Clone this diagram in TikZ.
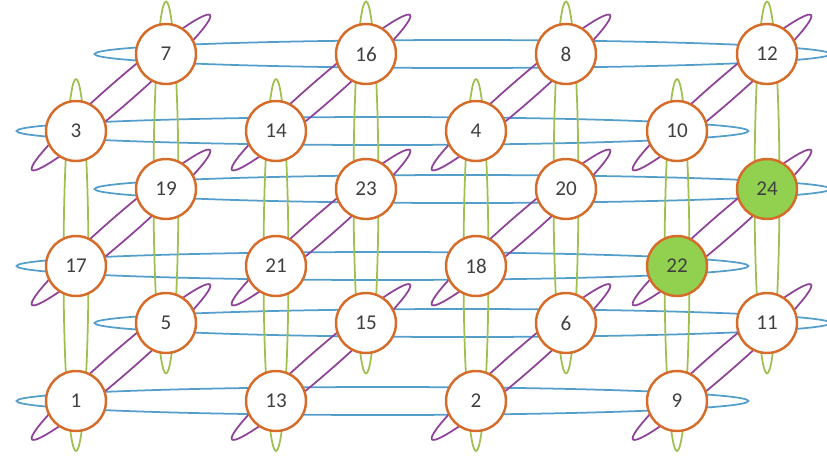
\documentclass[tikz,border=0pt]{standalone}
\usepackage{fontspec}
\setmainfont{Carlito}
\usetikzlibrary{calc,backgrounds}
\definecolor{ringblue}{RGB}{84,158,204}
\definecolor{ringgreen}{RGB}{158,192,78}
\definecolor{ringpurple}{RGB}{142,66,152}
\definecolor{nodeorange}{RGB}{214,108,42}
\definecolor{hotgreen}{RGB}{146,208,80}
\definecolor{numgray}{RGB}{64,64,64}

\begin{document}
\begin{tikzpicture}[x=0.02cm, y=-0.02cm,
        server/.style={circle, draw=nodeorange, line width=1.4pt, fill=white,
            minimum size=1.2cm, inner sep=0pt, text=numgray,
            font=\fontsize{12}{14}\selectfont},
        hot/.style={server, fill=hotgreen},
        rowring/.style={draw=ringblue, line width=1pt},
        colring/.style={draw=ringgreen, line width=1pt},
        diagring/.style={draw=ringpurple, line width=1pt}]
        \useasboundingbox (0,0) rectangle (827,457);
        % back layer
        \node[server] (n7)  at (166,54) {7};
        \node[server] (n16) at (366,54) {16};
        \node[server] (n8)  at (566,54) {8};
        \node[server] (n12) at (767,54) {12};
        \node[server] (n19) at (166,189) {19};
        \node[server] (n23) at (366,189) {23};
        \node[server] (n20) at (566,189) {20};
        \node[hot]    (n24) at (767,189) {24};
        \node[server] (n5)  at (166,323) {5};
        \node[server] (n15) at (366,323) {15};
        \node[server] (n6)  at (566,323) {6};
        \node[server] (n11) at (767,323) {11};
        % front layer
        \node[server] (n3)  at (76,131) {3};
        \node[server] (n14) at (276,131) {14};
        \node[server] (n4)  at (476,131) {4};
        \node[server] (n10) at (677,131) {10};
        \node[server] (n17) at (76,266) {17};
        \node[server] (n21) at (276,266) {21};
        \node[server] (n18) at (476,266) {18};
        \node[hot]    (n22) at (677,266) {22};
        \node[server] (n1)  at (76,401) {1};
        \node[server] (n13) at (276,401) {13};
        \node[server] (n2)  at (476,401) {2};
        \node[server] (n9)  at (677,401) {9};

        \begin{pgfonlayer}{background}
        % x rings
        \foreach \l/\r in {n3/n10, n17/n22, n1/n9}
            \draw[rowring] ($(\l)!0.5!(\r)+(6,0)$) ellipse [x radius=7.32cm, y radius=0.28cm];
        \foreach \l/\r in {n7/n12, n19/n24, n5/n11}
            \draw[rowring] ($(\l)!0.5!(\r)+(-4,0)$) ellipse [x radius=7.36cm, y radius=0.28cm];
        % y rings
        \foreach \t/\b in {n3/n1, n14/n13, n4/n2, n10/n9, n7/n5, n16/n15, n8/n6, n12/n11}
            \draw[colring] ($(\t)!0.5!(\b)+(0,-1)$) ellipse [x radius=0.25cm, y radius=3.72cm];
        % z rings
        \foreach \f/\k in {n3/n7, n14/n16, n4/n8, n10/n12, n17/n19, n21/n23,
                n18/n20, n22/n24, n1/n5, n13/n15, n2/n6, n9/n11} {
            \coordinate (m) at ($(\f)!0.5!(\k)$);
            \draw[diagring, rotate around={41:(m)}] (m) ellipse [x radius=2.36cm, y radius=0.24cm];
        }
        \end{pgfonlayer}
    \end{tikzpicture}
\end{document}
